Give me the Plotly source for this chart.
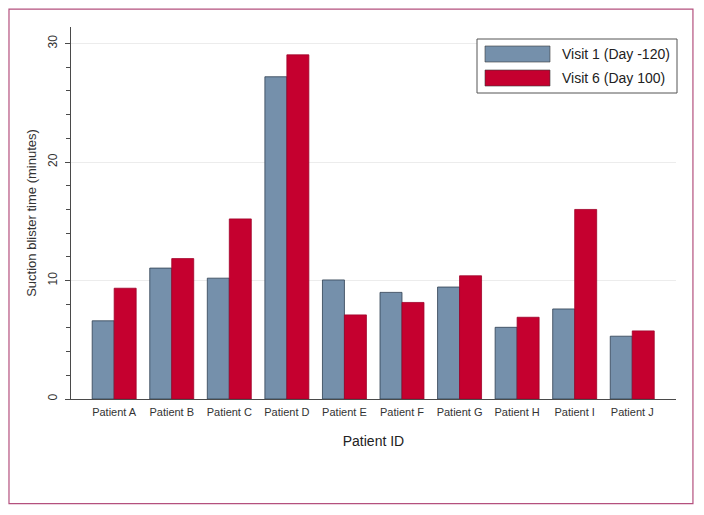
import plotly.graph_objects as go

patients = ["Patient A", "Patient B", "Patient C", "Patient D", "Patient E",
            "Patient F", "Patient G", "Patient H", "Patient I", "Patient J"]
visit1 = [6.6, 11.05, 10.2, 27.2, 10.05, 9.0, 9.45, 6.05, 7.6, 5.3]
visit6 = [9.35, 11.85, 15.2, 29.05, 7.1, 8.15, 10.4, 6.9, 16.0, 5.75]
series_names = ["Visit 1 (Day -120)", "Visit 6 (Day 100)"]
colors = ["#7590ab", "#c5002f"]
ytick_vals = [0, 10, 20, 30]

FONT = "Liberation Sans, Arial, sans-serif"

fig = go.Figure()
fig.add_trace(go.Bar(x=patients, y=visit1, name=series_names[0],
                     marker=dict(color=colors[0], line=dict(color="#2f3f52", width=0.8))))
fig.add_trace(go.Bar(x=patients, y=visit6, name=series_names[1],
                     marker=dict(color=colors[1], line=dict(color="#a00028", width=0.8))))

# page body has an 8px margin, so the figure is offset by 8px
fig.update_layout(
    width=696, height=507,
    margin=dict(l=63, r=28, t=19, b=116),
    paper_bgcolor="white", plot_bgcolor="white",
    barmode="group", bargap=0.236, bargroupgap=0,
    showlegend=False,
    font=dict(family=FONT, color="#333333"),
)
fig.update_xaxes(
    range=[-0.75, 9.76], showline=True, linecolor="#4a4a4a", linewidth=1,
    ticks="", tickfont=dict(size=11, color="#333333"), showgrid=False,
    ticklabelstandoff=3,
    title=dict(text="Patient ID", font=dict(size=14, color="#222222"), standoff=18),
)
fig.update_yaxes(
    range=[0, 31.4], showline=True, linecolor="#4a4a4a", linewidth=1,
    tickvals=ytick_vals, ticks="outside", ticklen=5, tickcolor="#4a4a4a",
    tickangle=-90, tickfont=dict(size=12, color="#333333"),
    ticklabelstandoff=3,
    minor=dict(tickvals=[v for v in range(0, 31, 2) if v % 10], ticks="outside",
               ticklen=4, tickcolor="#4a4a4a", showgrid=False),
    showgrid=True, gridcolor="#ececec", gridwidth=1, zeroline=False,
    title=dict(text="Suction blister time (minutes)", font=dict(size=13, color="#333333"), standoff=6),
)

# outer frame
fig.add_shape(type="rect", xref="paper", yref="paper",
              x0=-0.1025, x1=1.028, y0=-0.281, y1=1.048,
              line=dict(color="#b4507e", width=1.2), fillcolor="rgba(0,0,0,0)", layer="below")

# legend box (drawn manually to mimic wide swatches)
lx0, lx1 = (477 - 71) / 605, (677 - 71) / 605
ly0, ly1 = (399 - 93) / 372, (399 - 39) / 372
fig.add_shape(type="rect", xref="paper", yref="paper", x0=lx0, x1=lx1, y0=ly0, y1=ly1,
              line=dict(color="#555555", width=1), fillcolor="white")
sw_x0, sw_x1 = (485 - 71) / 605, (550 - 71) / 605
rows = [(46, 62), (70, 86)]
for (top, bot), name, col in zip(rows, series_names, colors):
    fig.add_shape(type="rect", xref="paper", yref="paper",
                  x0=sw_x0, x1=sw_x1, y0=(399 - bot) / 372, y1=(399 - top) / 372,
                  line=dict(color="#3a3a3a", width=0.6), fillcolor=col)
    fig.add_annotation(xref="paper", yref="paper", x=(560 - 71) / 605,
                       y=(399 - (top + bot) / 2) / 372, text=name, showarrow=False,
                       xanchor="left", yanchor="middle",
                       font=dict(size=14, color="#222222", family=FONT))

fig.write_html("out.html")
